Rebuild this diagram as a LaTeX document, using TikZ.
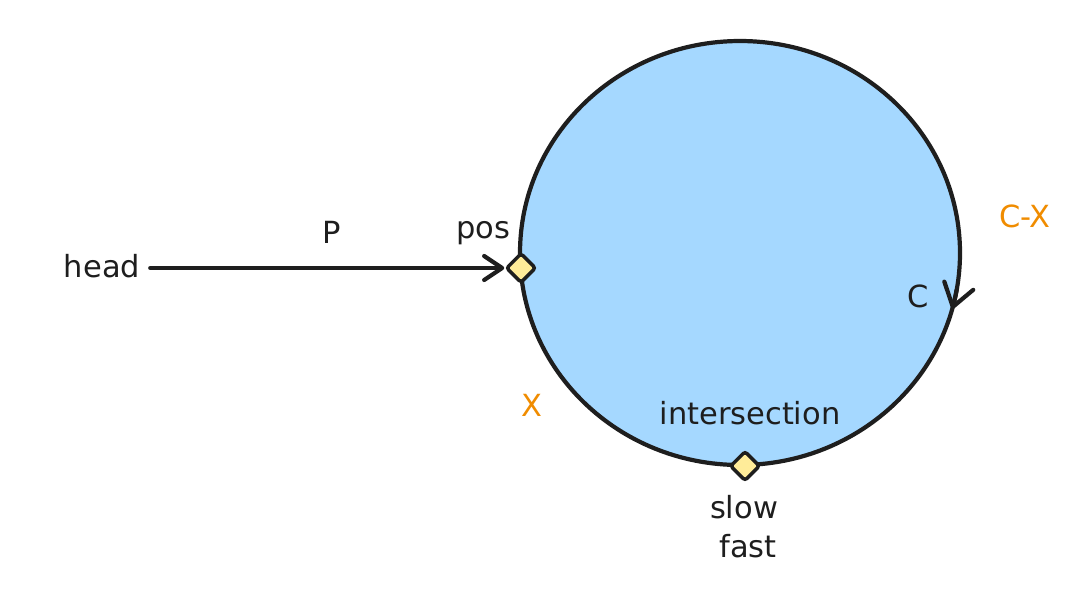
\documentclass[tikz,border=0pt]{standalone}
\usepackage{fontspec}
\setmainfont{DejaVu Sans}
\usetikzlibrary{shapes.geometric,arrows.meta}
\definecolor{ink}{HTML}{1E1E1E}
\definecolor{skyfill}{HTML}{A5D8FF}
\definecolor{marker}{HTML}{FFEC99}
\definecolor{orangetxt}{HTML}{F08C00}
\begin{document}
\begin{tikzpicture}[x=1pt,y=1pt,
  lbl/.style={font=\fontsize{30.5}{36}\selectfont, text=ink, inner sep=0pt, anchor=base},
  olbl/.style={lbl, text=orangetxt},
  marknode/.style={diamond, draw=ink, fill=marker, line width=3.5pt, minimum size=30pt, inner sep=0pt, rounded corners=2.5pt},
  edge/.style={draw=ink, line width=4.2pt, line cap=round},
  barb/.style={-{Straight Barb[length=18pt,width=24pt,line cap=round,line join=round]}}]
\useasboundingbox (0,0) rectangle (1070,-590);
\node[ellipse, draw=ink, fill=skyfill, line width=4.2pt, minimum width=440pt, minimum height=424pt, inner sep=0pt] (cyc) at (740,-253) {};
\draw[edge, -{Straight Barb[length=22pt,width=30pt,line cap=round,line join=round]}] ([shift={(740,-253)}]-10:220 and 212) arc[start angle=-10, end angle=-15.3, x radius=220, y radius=212];
\node[lbl] (head) at (102,-277) {head};
\node[marknode] (pos) at (521,-268) {};
\node[marknode] (meet) at (745,-466) {};
\draw[edge, barb] ([xshift=10pt]head.east |- pos.west) -- (pos.west);
\node[lbl] (plabel) at (332,-243) {P};
\node[lbl] (poslabel) at (483,-238) {pos};
\node[olbl] (cxlabel) at (1025,-227) {C-X};
\node[lbl] (clabel) at (918,-307) {C};
\node[olbl] (xlabel) at (532,-416) {X};
\node[lbl] (interlabel) at (750,-424) {intersection};
\node[lbl] (slowlabel) at (744,-518) {slow};
\node[lbl] (fastlabel) at (748,-557) {fast};
\end{tikzpicture}
\end{document}
